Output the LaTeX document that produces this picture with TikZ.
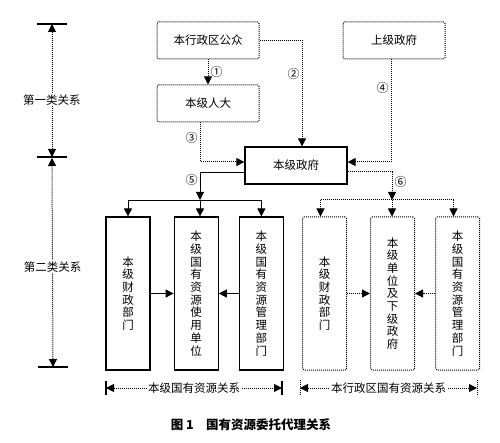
\documentclass[tikz,border=0pt]{standalone}
\usepackage{fontspec}
\setmainfont{Noto Sans CJK SC}
\usetikzlibrary{arrows.meta,positioning}
\tikzset{
  dots/.style={dash pattern=on 1pt off 1pt, line width=1pt},
  realbox/.style={rectangle, draw=black, line width=1.2pt, minimum width=102pt, minimum height=37pt, inner sep=0pt, align=center, font=\fontsize{11.5}{13}\selectfont},
  dotbox/.style={rectangle, rounded corners=1.5pt, draw=black, dots, minimum width=102pt, minimum height=37pt, inner sep=0pt, align=center, font=\fontsize{11.5}{13}\selectfont},
  realcol/.style={realbox, minimum width=44pt, minimum height=153pt, font=\fontsize{11.5}{12.7}\selectfont},
  dotcol/.style={dotbox, minimum width=44pt, minimum height=153pt, font=\fontsize{11.5}{12.7}\selectfont},
  flow/.style={line width=0.9pt, -{Triangle[length=8pt,width=8pt]}},
  dotflow/.style={flow, dots},
  numlabel/.style={font=\fontsize{12}{12}\selectfont, inner sep=2pt},
  tag/.style={fill=white, inner sep=1pt, font=\fontsize{11.5}{13}\selectfont},
}

\begin{document}
\begin{tikzpicture}[x=1pt, y=-1pt]
  \useasboundingbox (0,0) rectangle (500,443);
  % upper level
  \node[dotbox] (gongzhong) at (208,40.5) {本行政区公众};
  \node[dotbox,below=25pt of gongzhong] (renda) {本级人大};
  \node[dotbox] (shangji) at (394,40.5) {上级政府};
  \node[realbox] (zhengfu) at (296,165.5) {本级政府};
  % lower level
  \node[realcol] (caizhengA) at (128,293.5) {本\\级\\财\\政\\部\\门};
  \node[realcol,right=23pt of caizhengA] (shiyong) {本\\级\\国\\有\\资\\源\\使\\用\\单\\位};
  \node[realcol,right=20pt of shiyong] (guanliA) {本\\级\\国\\有\\资\\源\\管\\理\\部\\门};
  \node[dotcol,right=18pt of guanliA] (caizhengB) {本\\级\\财\\政\\部\\门};
  \node[dotcol,right=23pt of caizhengB] (xiaji) {本\\级\\单\\位\\及\\下\\级\\政\\府};
  \node[dotcol,right=20pt of xiaji] (guanliB) {本\\级\\国\\有\\资\\源\\管\\理\\部\\门};
  \coordinate (jA) at (200,200);
  \coordinate (jB) at (392,200);
  % first kind
  \draw[dotflow] (gongzhong) -- node[numlabel,right] {①} (renda);
  \draw[dotflow] (gongzhong.east) -| node[numlabel,pos=.66,left] {②} ([xshift=6pt]zhengfu.north);
  \draw[dotflow] ([xshift=-8pt]renda.south) |- node[numlabel,pos=.19,left] {③} ([yshift=3.5pt]zhengfu.west);
  \draw[dotflow] ([xshift=-3pt]shangji.south) |- node[numlabel,pos=.14,left] {④} ([yshift=3.5pt]zhengfu.east);
  % second kind
  \draw[flow] ([yshift=-6.5pt]zhengfu.west) -| node[numlabel,pos=.64,left] {⑤} (jA);
  \draw[line width=0.9pt] (caizhengA.north |- jA) -- (guanliA.north |- jA);
  \draw[flow] (caizhengA.north |- jA) -- (caizhengA.north);
  \draw[flow] (jA) -- (jA |- shiyong.north);
  \draw[flow] (guanliA.north |- jA) -- (guanliA.north);
  \draw[dotflow] ([yshift=-6.5pt]zhengfu.east) -| node[numlabel,pos=.68,right] {⑥} (jB);
  \draw[dots] ([xshift=-4pt]caizhengB.north |- jB) -- ([xshift=-4pt]guanliB.north |- jB);
  \draw[dotflow] ([xshift=-4pt]caizhengB.north |- jB) -- ([xshift=-4pt]caizhengB.north);
  \draw[dotflow] (jB) -- (jB |- xiaji.north);
  \draw[dotflow] ([xshift=-4pt]guanliB.north |- jB) -- ([xshift=-4pt]guanliB.north);
  \draw[flow] (caizhengA.east) -- (shiyong.west);
  \draw[flow] (guanliA.west) -- (shiyong.east);
  \draw[dotflow] (caizhengB.east) -- (xiaji.west);
  \draw[dotflow] (guanliB.west) -- (xiaji.east);
  % left scale
  \coordinate (tA) at (52,24);
  \coordinate (tB) at (52,157);
  \coordinate (tC) at (53,367);
  \foreach \t in {tA,tB,tC}
    \draw[line width=1.1pt] ([xshift=-15pt]\t) -- ([xshift=15pt]\t);
  \draw[dotflow,{Triangle[length=8pt,width=8pt]}-{Triangle[length=8pt,width=8pt]}] (tA) -- node[tag,pos=.57] {第一类关系} (tB);
  \draw[dotflow,{Triangle[length=8pt,width=8pt]}-{Triangle[length=8pt,width=8pt]}] ([yshift=-1pt]tB) -- node[tag,pos=.52] {第二类关系} (tC);
  % bottom scale
  \coordinate (bA) at (106,388);
  \coordinate (bB) at (282,388);
  \coordinate (bC) at (300,388);
  \coordinate (bD) at (477,388);
  \foreach \b in {bA,bB}
    \draw[line width=1.1pt] ([yshift=7pt]\b) -- ([yshift=-7pt]\b);
  \foreach \b in {bC,bD}
    \draw[dots] ([yshift=8pt]\b) -- ([yshift=-8pt]\b);
  \draw[dotflow,{Triangle[length=8pt,width=8pt]}-{Triangle[length=8pt,width=8pt]}] (bA) -- node[tag] {本级国有资源关系} (bB);
  \draw[dotflow,{Triangle[length=8pt,width=8pt]}-{Triangle[length=8pt,width=8pt]}] (bC) -- node[tag] {本行政区国有资源关系} (bD);
  \node[font=\fontsize{12.5}{14}\selectfont\bfseries] (caption) at (251,425) {图 1\quad 国有资源委托代理关系};
\end{tikzpicture}
\end{document}
